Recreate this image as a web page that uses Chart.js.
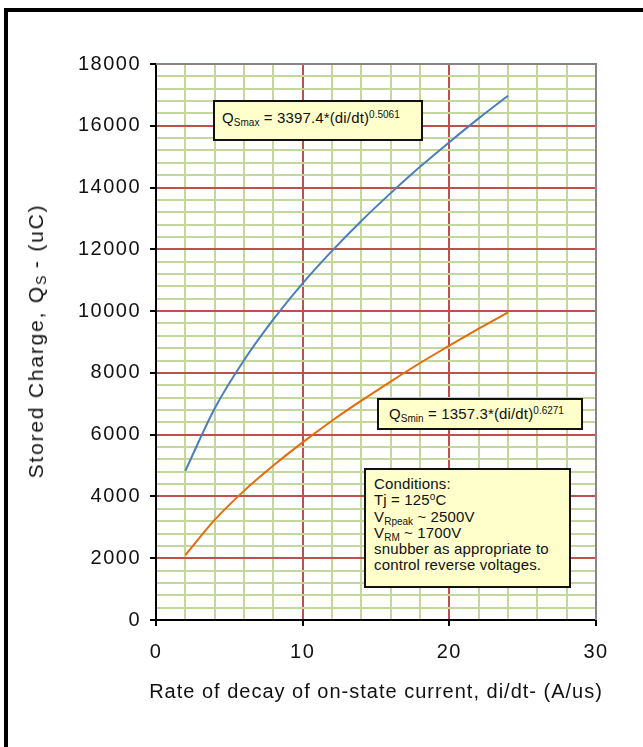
<!DOCTYPE html>
<html>
<head>
<meta charset="utf-8">
<script src="https://cdn.jsdelivr.net/npm/chart.js@4/dist/chart.umd.min.js"></script>
<style>
  html, body { margin: 0; padding: 0; background: #fff; overflow: hidden; }
  body { width: 643px; height: 747px; position: relative; font-family: "Liberation Sans", Arial, sans-serif; }
  #frame { position: absolute; left: 4px; top: 8px; width: 700px; height: 800px; border-left: 4px solid #000; border-top: 4px solid #000; box-sizing: border-box; }
  #chart { position: absolute; left: 0; top: 0; }
  .note { position: absolute; background: #ffffcc; border: 2px solid #111; box-sizing: border-box; color: #111; font-size: 15px; line-height: 16.3px; letter-spacing: 0.15px; white-space: nowrap; }
  .note sub, .note sup { font-size: 10px; line-height: 0; letter-spacing: 0; }
  .note sub { vertical-align: -3px; }
  .note sup { vertical-align: 5px; }
  .axis-title { position: absolute; color: #111; font-size: 20px; letter-spacing: 1px; white-space: nowrap; line-height: 24px; }
  .axis-title sub { font-size: 14px; line-height: 0; vertical-align: -3px; letter-spacing: 0; }
  #xTitle { left: 376px; top: 691px; transform: translate(-50%, -50%); }
  #yTitle { left: 36px; top: 341px; font-size: 21px; letter-spacing: 1.8px; transform: translate(-50%, -50%) rotate(-90deg); }
</style>
</head>
<body>
<div id="frame"></div>
<canvas id="chart" width="643" height="747"></canvas>

<div class="axis-title" id="xTitle">Rate of decay of on-state current, di/dt- (A/us)</div>
<div class="axis-title" id="yTitle">Stored Charge, Q<sub>S</sub> - (uC)</div>

<div class="note" style="left:213px; top:100px; width:210px; height:41px; padding:8px 0 0 7px;">Q<sub>Smax</sub> = 3397.4*(di/dt)<sup>0.5061</sup></div>
<div class="note" style="left:377px; top:398px; width:206px; height:32px; padding:6px 0 0 10px;">Q<sub>Smin</sub> = 1357.3*(di/dt)<sup>0.6271</sup></div>
<div class="note" style="left:364px; top:468px; width:207px; height:120px; padding:6px 0 0 8px;">Conditions:<br>Tj = 125<sup>o</sup>C<br>V<sub>Rpeak</sub> ~ 2500V<br>V<sub>RM</sub> ~ 1700V<br>snubber as appropriate to<br>control reverse voltages.</div>

<script>
// di/dt in A/us
const diDt = [2, 4, 6, 8, 10, 12, 14, 16, 18, 20, 22, 24];
// Stored charge Qs (uC), upper and lower bound curves
const qsMax = [4830, 6850, 8410, 9730, 10900, 11950, 12920, 13820, 14670, 15470, 16240, 16970];
const qsMin = [2100, 3240, 4180, 5000, 5750, 6450, 7100, 7720, 8320, 8880, 9430, 9960];
// axis ranges and labelled ticks
const xTicks = [0, 10, 20, 30];
const yTicks = [0, 2000, 4000, 6000, 8000, 10000, 12000, 14000, 16000, 18000];

const RED = '#c0504d';
const GREEN = '#c3d69b';
const FONT = '"Liberation Sans", Arial, sans-serif';

const toPts = (ys) => diDt.map((x, i) => ({ x: x, y: ys[i] }));

// slightly wider spacing for the tick label text
const labelSpacing = {
  id: 'labelSpacing',
  beforeDraw(chart) { chart.ctx.letterSpacing = '1.5px'; }
};

// grey border on the top and right edges of the plot area
const plotFrame = {
  id: 'plotFrame',
  afterDatasetsDraw(chart) {
    const { ctx, chartArea: a } = chart;
    ctx.save();
    ctx.strokeStyle = '#8c8282';
    ctx.lineWidth = 2;
    ctx.beginPath();
    ctx.moveTo(a.left, a.top);
    ctx.lineTo(a.right, a.top);
    ctx.lineTo(a.right, a.bottom);
    ctx.stroke();
    ctx.restore();
  }
};

new Chart(document.getElementById('chart'), {
  type: 'line',
  data: {
    datasets: [
      { label: 'Qs max', data: toPts(qsMax), borderColor: '#4a7ebb', borderWidth: 2, pointRadius: 0, cubicInterpolationMode: 'monotone' },
      { label: 'Qs min', data: toPts(qsMin), borderColor: '#e46c0a', borderWidth: 2, pointRadius: 0, cubicInterpolationMode: 'monotone' }
    ]
  },
  options: {
    responsive: false,
    animation: false,
    events: [],
    layout: { padding: { left: 0, top: 64, right: 47, bottom: 0 } },
    plugins: { legend: { display: false }, tooltip: { enabled: false } },
    scales: {
      x: {
        type: 'linear',
        min: xTicks[0],
        max: xTicks[xTicks.length - 1],
        afterFit(s) { s.height = 127; },
        afterBuildTicks(s) {
          const t = [];
          for (let v = xTicks[0]; v <= xTicks[xTicks.length - 1]; v += 2) t.push({ value: v });
          s.ticks = t;
        },
        ticks: {
          autoSkip: false,
          maxRotation: 0,
          padding: 14,
          color: '#111',
          font: { family: FONT, size: 20 },
          callback: (v) => xTicks.includes(v) ? String(v) : ''
        },
        grid: {
          color: (c) => (c.tick && c.tick.value % 10 === 0) ? RED : GREEN,
          lineWidth: 2,
          tickLength: 6,
          tickColor: (c) => (c.tick && c.tick.value % 10 === 0) ? '#000' : 'rgba(0,0,0,0)',
          tickWidth: 2
        },
        border: { color: '#000', width: 2 },
        title: { display: false }
      },
      y: {
        type: 'linear',
        min: yTicks[0],
        max: yTicks[yTicks.length - 1],
        afterFit(s) { s.width = 156; },
        afterBuildTicks(s) {
          const t = [];
          for (let v = yTicks[0]; v <= yTicks[yTicks.length - 1]; v += 400) t.push({ value: v });
          s.ticks = t;
        },
        ticks: {
          autoSkip: false,
          padding: 9,
          color: '#111',
          font: { family: FONT, size: 20 },
          callback: (v) => yTicks.includes(v) ? String(v) : ''
        },
        grid: {
          color: (c) => (c.tick && c.tick.value % 2000 === 0) ? RED : GREEN,
          lineWidth: 2,
          tickLength: 6,
          tickColor: (c) => (c.tick && c.tick.value % 2000 === 0) ? '#000' : 'rgba(0,0,0,0)',
          tickWidth: 2
        },
        border: { color: '#000', width: 2 },
        title: { display: false }
      }
    }
  },
  plugins: [labelSpacing, plotFrame]
});
</script>
</body>
</html>
